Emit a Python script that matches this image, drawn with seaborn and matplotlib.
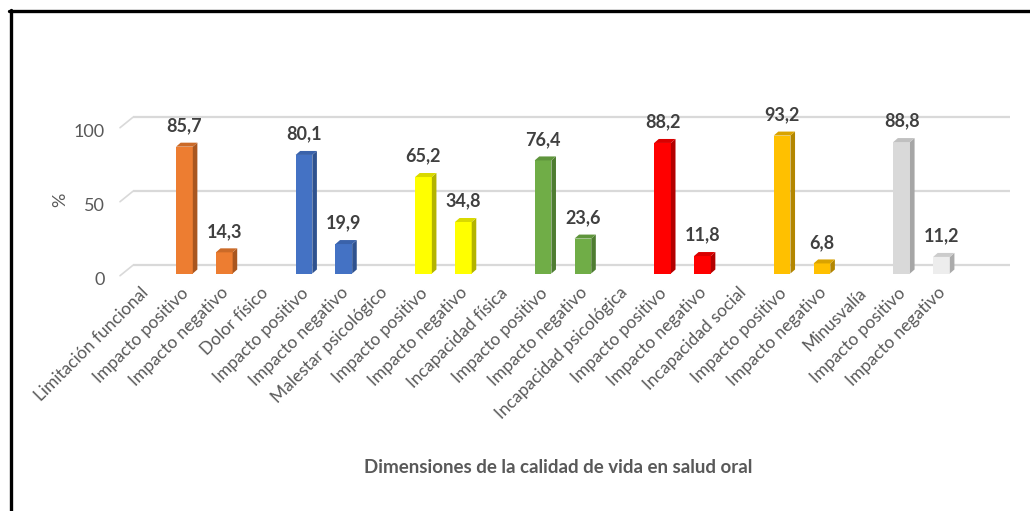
import numpy as np
import pandas as pd
import matplotlib
matplotlib.use("Agg")
import matplotlib.pyplot as plt
from matplotlib.patches import Polygon
from matplotlib.lines import Line2D
from matplotlib.transforms import ScaledTranslation
import seaborn as sns

# Data
dimensiones = ["Limitación funcional", "Dolor físico", "Malestar psicológico",
               "Incapacidad física", "Incapacidad psicológica",
               "Incapacidad social", "Minusvalía"]
positivo = [85.7, 80.1, 65.2, 76.4, 88.2, 93.2, 88.8]
negativo = [14.3, 19.9, 34.8, 23.6, 11.8, 6.8, 11.2]

# colours: front face, side face for positive / negative bars
color_pos = ["#ED7D31", "#4472C4", "#FFFF00", "#70AD47", "#FF0000", "#FFC000", "#D9D9D9"]
color_neg = ["#ED7D31", "#4472C4", "#FFFF00", "#70AD47", "#FF0000", "#FFC000", "#EDEDED"]
side_pos = ["#A9561F", "#2F528F", "#B3B300", "#4E7C31", "#B30000", "#B38600", "#A6A6A6"]
side_neg = ["#A9561F", "#2F528F", "#B3B300", "#4E7C31", "#B30000", "#B38600", "#ABABAB"]

# Build the long table: each dimension takes three slots on the axis
tick_labels = []
rows = []
for g, dim in enumerate(dimensiones):
    tick_labels += [dim, "Impacto positivo", "Impacto negativo"]
    rows.append({"pos": 3 * g + 1, "valor": positivo[g], "key": f"p{g}",
                 "front": color_pos[g], "side": side_pos[g]})
    rows.append({"pos": 3 * g + 2, "valor": negativo[g], "key": f"n{g}",
                 "front": color_neg[g], "side": side_neg[g]})
df = pd.DataFrame(rows)

sns.set_theme(style="white")
plt.rcParams["font.family"] = ["Lato", "DejaVu Sans"]

fig = plt.figure(figsize=(10.30, 5.11), dpi=100)
W, H = 1030, 511
ax = fig.add_axes([120 / W, (H - 273.5) / H, 890 / W, 162.8 / H])

sns.barplot(data=df, x="pos", y="valor", hue="key",
            palette=dict(zip(df["key"], df["front"])),
            native_scale=True, dodge=False, width=0.42, saturation=1,
            legend=False, linewidth=0, ax=ax, zorder=3)

ax.set_xlim(-0.617, 21.72)
ax.set_ylim(0, 110)

# pseudo 3D: side and top faces of each bar
dx, dy = 0.115, 2.7
side_map = dict(zip(df["pos"], df["side"]))
for bar in list(ax.patches):
    x0 = bar.get_x()
    x1 = x0 + bar.get_width()
    h = bar.get_height()
    p = int(round(x0 + bar.get_width() / 2))
    sc = side_map[p]
    ax.add_patch(Polygon([(x1, 0), (x1 + dx, dy), (x1 + dx, h + dy), (x1, h)],
                         closed=True, facecolor=sc, edgecolor="none", zorder=3))
    top = tuple((np.array(matplotlib.colors.to_rgb(bar.get_facecolor()))
                 + np.array(matplotlib.colors.to_rgb(sc))) / 2)
    ax.add_patch(Polygon([(x0, h), (x1, h), (x1 + dx, h + dy), (x0 + dx, h + dy)],
                         closed=True, facecolor=top, edgecolor="none", zorder=3))
    ax.annotate(f"{h:.1f}".replace(".", ","), (x0 + bar.get_width() / 2, h),
                xytext=(0, 15), textcoords="offset points", ha="center",
                va="center", fontsize=13, fontweight="bold", color="#404040",
                annotation_clip=False)

# back-wall gridlines with a short floor diagonal
for v in [0, 50, 100]:
    ax.plot([-0.291, 21.72], [v + 5.6, v + 5.6], color="#D9D9D9", lw=1.6,
            zorder=1, clip_on=False, solid_capstyle="butt")
    ax.plot([-0.617, -0.291], [v - 1.5, v + 5.6], color="#D9D9D9", lw=1.2,
            zorder=1, clip_on=False)

for s in ax.spines.values():
    s.set_visible(False)
ax.grid(False)

ax.set_yticks([0, 50, 100])
ax.set_yticklabels(["0", "50", "100"])
ax.tick_params(axis="y", length=0, pad=11, labelsize=13, labelcolor="#595959")
for lab in ax.get_yticklabels():
    lab.set_transform(lab.get_transform() + ScaledTranslation(0, -5 / 100, fig.dpi_scale_trans))

ax.set_xticks(range(len(tick_labels)))
ax.set_xticklabels(tick_labels, rotation=45, ha="right", rotation_mode="anchor",
                   fontsize=12.5, color="#595959")
ax.tick_params(axis="x", length=0, pad=8)
for lab in ax.get_xticklabels():
    lab.set_transform(lab.get_transform() + ScaledTranslation(-4 / 100, 0, fig.dpi_scale_trans))
ax.set_xlabel("")
ax.set_ylabel("")

fig.text(558 / W, 1 - 467 / H, "Dimensiones de la calidad de vida en salud oral",
         ha="center", va="center", fontsize=13.5, fontweight="bold", color="#595959")
fig.text(60 / W, 1 - 200 / H, "%", ha="center", va="center", rotation=90,
         fontsize=13, color="#595959")

# frame of the original picture (top and left only)
fig.add_artist(Line2D([9 / W, 1], [1 - 11.5 / H, 1 - 11.5 / H], color="black",
                      lw=2.4, transform=fig.transFigure))
fig.add_artist(Line2D([10.5 / W, 10.5 / W], [0, 1 - 10 / H], color="black",
                      lw=2.4, transform=fig.transFigure))

fig.savefig("out.png", dpi=100, facecolor="white")
